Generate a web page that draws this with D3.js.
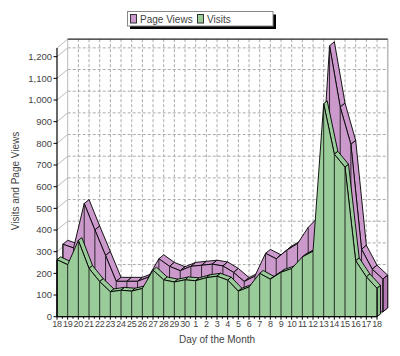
<!DOCTYPE html>
<html><head><meta charset="utf-8">
<script src="https://cdn.jsdelivr.net/npm/d3@7/dist/d3.min.js"></script>
<style>
body{margin:0;background:#fff}
svg{display:block}
text{font-family:"Liberation Sans",Arial,sans-serif}
</style>
</head><body>
<svg id="chart" width="400" height="356"></svg>
<script>
// ---- data ----
const days = ["18","19","20","21","22","23","24","25","26","27","28","29","30",
              "1","2","3","4","5","6","7","8","9","10","11","12","13","14","15","16","17","18"];
const visits = [263,240,352,223,162,115,122,118,130,215,170,160,170,
                166,180,187,169,118,137,200,173,205,222,276,302,983,750,690,258,184,131];
const pageViews = [312,295,500,378,260,141,141,141,160,245,210,190,210,
                   215,220,212,182,140,165,270,245,285,315,390,440,1228,945,773,289,197,151];
const yTicks = [0,100,200,300,400,500,600,700,800,900,1000,1100,1200];
const seriesNames = ["Page Views","Visits"];
const xTitle = "Day of the Month";
const yTitle = "Visits and Page Views";

// ---- layout ----
const svg = d3.select("#chart");
const DX = 10.7, DY = -8.8;
const x = d3.scalePoint().domain(d3.range(days.length)).range([57, 377]);
const y = d3.scaleLinear().domain([0, 1240]).range([316.7, 48]);
const P = (i, v, z) => [x(i) + z * DX, y(v) + z * DY];
const poly = pts => pts.map(p => p.join(",")).join(" ");

const xL = x(0), xR = x(days.length - 1), yB = y(0), yT = y(1240);

// back wall
const g = svg.append("g");
g.append("rect").attr("x", xL + DX).attr("y", yT + DY).attr("width", xR - xL).attr("height", yB - yT).attr("fill", "#fff");
g.selectAll(".hg").data(yTicks.filter(t => t > 0)).join("line")
  .attr("x1", xL + DX).attr("x2", xR + DX)
  .attr("y1", d => y(d) + DY).attr("y2", d => y(d) + DY)
  .attr("stroke", "#aaa").attr("stroke-dasharray", "3,2").attr("stroke-width", 1);
g.selectAll(".vg").data(d3.range(1, days.length)).join("line")
  .attr("x1", d => x(d) + DX).attr("x2", d => x(d) + DX)
  .attr("y1", yT + DY).attr("y2", yB + DY)
  .attr("stroke", "#aaa").attr("stroke-dasharray", "3,2").attr("stroke-width", 1);
// left wall diagonals
g.selectAll(".lw").data(yTicks.concat([1240])).join("line")
  .attr("x1", xL).attr("x2", xL + DX)
  .attr("y1", d => y(d)).attr("y2", d => y(d) + DY)
  .attr("stroke", "#bbb").attr("stroke-width", 1);
g.append("line").attr("x1", xL + DX).attr("x2", xL + DX).attr("y1", yT + DY).attr("y2", yB + DY)
  .attr("stroke", "#bbb");
g.append("line").attr("x1", xR + DX).attr("x2", xR + DX).attr("y1", yT + DY).attr("y2", yB + DY)
  .attr("stroke", "#bbb").attr("stroke-width", 1.5);
g.append("line").attr("x1", xL + DX).attr("x2", xR + DX).attr("y1", yT + DY).attr("y2", yT + DY)
  .attr("stroke", "#222").attr("stroke-width", 1.2);
g.append("line").attr("x1", xR).attr("x2", xR + DX).attr("y1", yB).attr("y2", yB + DY).attr("stroke", "#888");

// ---- 3D ribbons ----
function ribbon(vals, z0, z1, fill, side) {
  const r = svg.append("g");
  const n = vals.length;
  for (let i = 0; i < n - 1; i++) {
    const a = P(i, vals[i], z0), b = P(i + 1, vals[i + 1], z0);
    const sx = b[0] - a[0], sy = b[1] - a[1];
    const ddx = (z1 - z0) * DX, ddy = (z1 - z0) * DY;
    if (ddy * sx < sy * ddx) {
      r.append("polygon")
        .attr("points", poly([a, b, P(i + 1, vals[i + 1], z1), P(i, vals[i], z1)]))
        .attr("fill", fill).attr("stroke", "#000").attr("stroke-width", 0.9).attr("stroke-linejoin", "round");
    }
  }
  r.append("polygon")
    .attr("points", poly([P(n - 1, 0, z0), P(n - 1, vals[n - 1], z0), P(n - 1, vals[n - 1], z1), P(n - 1, 0, z1)]))
    .attr("fill", side).attr("stroke", "#000").attr("stroke-width", 0.9);
  const front = vals.map((v, i) => P(i, v, z0)).concat([P(n - 1, 0, z0), P(0, 0, z0)]);
  r.append("polygon").attr("points", poly(front))
    .attr("fill", fill).attr("stroke", "#000").attr("stroke-width", 0.9).attr("stroke-linejoin", "round");
  r.selectAll(".dl").data(vals).join("line")
    .attr("x1", (d, i) => P(i, 0, z0)[0]).attr("x2", (d, i) => P(i, 0, z0)[0])
    .attr("y1", (d, i) => P(i, 0, z0)[1]).attr("y2", (d, i) => P(i, d, z0)[1])
    .attr("stroke", "#1a1a1a").attr("stroke-width", 0.9);
}
ribbon(pageViews, 0.55, 1.0, "#cc99cc", "#b37ab3");
ribbon(visits, 0.0, 0.33, "#99cc99", "#8cbf8c");

// ---- axes ----
const ax = svg.append("g");
ax.append("line").attr("x1", xL).attr("x2", xL).attr("y1", yT).attr("y2", yB).attr("stroke", "#000").attr("stroke-width", 1.2);
ax.append("line").attr("x1", xL).attr("x2", xR).attr("y1", yB).attr("y2", yB).attr("stroke", "#000").attr("stroke-width", 1);
ax.selectAll(".yt").data(yTicks).join("line")
  .attr("x1", xL - 3.5).attr("x2", xL).attr("y1", d => y(d)).attr("y2", d => y(d)).attr("stroke", "#000");
ax.selectAll(".yl").data(yTicks).join("text")
  .attr("x", xL - 5).attr("y", d => y(d)).attr("dy", "0.35em")
  .attr("text-anchor", "end").attr("font-size", 9.5).attr("fill", "#444")
  .text(d => d3.format(",")(d));
const halfTicks = d3.range(0, days.length - 0.5, 0.5);
ax.selectAll(".xt").data(halfTicks).join("line")
  .attr("x1", d => xL + d * (xR - xL) / (days.length - 1)).attr("x2", d => xL + d * (xR - xL) / (days.length - 1))
  .attr("y1", yB).attr("y2", d => yB + (Number.isInteger(d) ? 3 : 2)).attr("stroke", "#000");
ax.selectAll(".xl").data(days).join("text")
  .attr("x", (d, i) => x(i)).attr("y", 327)
  .attr("text-anchor", "middle").attr("font-size", 9).attr("letter-spacing", "-0.3")
  .attr("fill", "#444").text(d => d);
svg.append("text").attr("x", 217).attr("y", 343).attr("text-anchor", "middle")
  .attr("font-size", 10).attr("fill", "#444").text(xTitle);
svg.append("text").attr("transform", "translate(19,181) rotate(-90)").attr("text-anchor", "middle")
  .attr("font-size", 10).attr("fill", "#444").text(yTitle);

// ---- legend ----
const lg = svg.append("g");
lg.append("rect").attr("x", 130).attr("y", 14.5).attr("width", 146).attr("height", 14.5).attr("fill", "#000");
lg.append("rect").attr("x", 127.5).attr("y", 11.5).attr("width", 145.5).attr("height", 14.5)
  .attr("fill", "#fff").attr("stroke", "#888").attr("stroke-width", 1);
const legItems = [{name: seriesNames[0], c: "#cc99cc", sx: 130.5, tx: 140},
                  {name: seriesNames[1], c: "#99cc99", sx: 197.5, tx: 207}];
legItems.forEach(it => {
  lg.append("rect").attr("x", it.sx).attr("y", 14.5).attr("width", 6).attr("height", 8.5)
    .attr("fill", it.c).attr("stroke", "#333").attr("stroke-width", 1);
  lg.append("text").attr("x", it.tx).attr("y", 22.5).attr("font-size", 10).attr("fill", "#444").text(it.name);
});
</script>
</body></html>
